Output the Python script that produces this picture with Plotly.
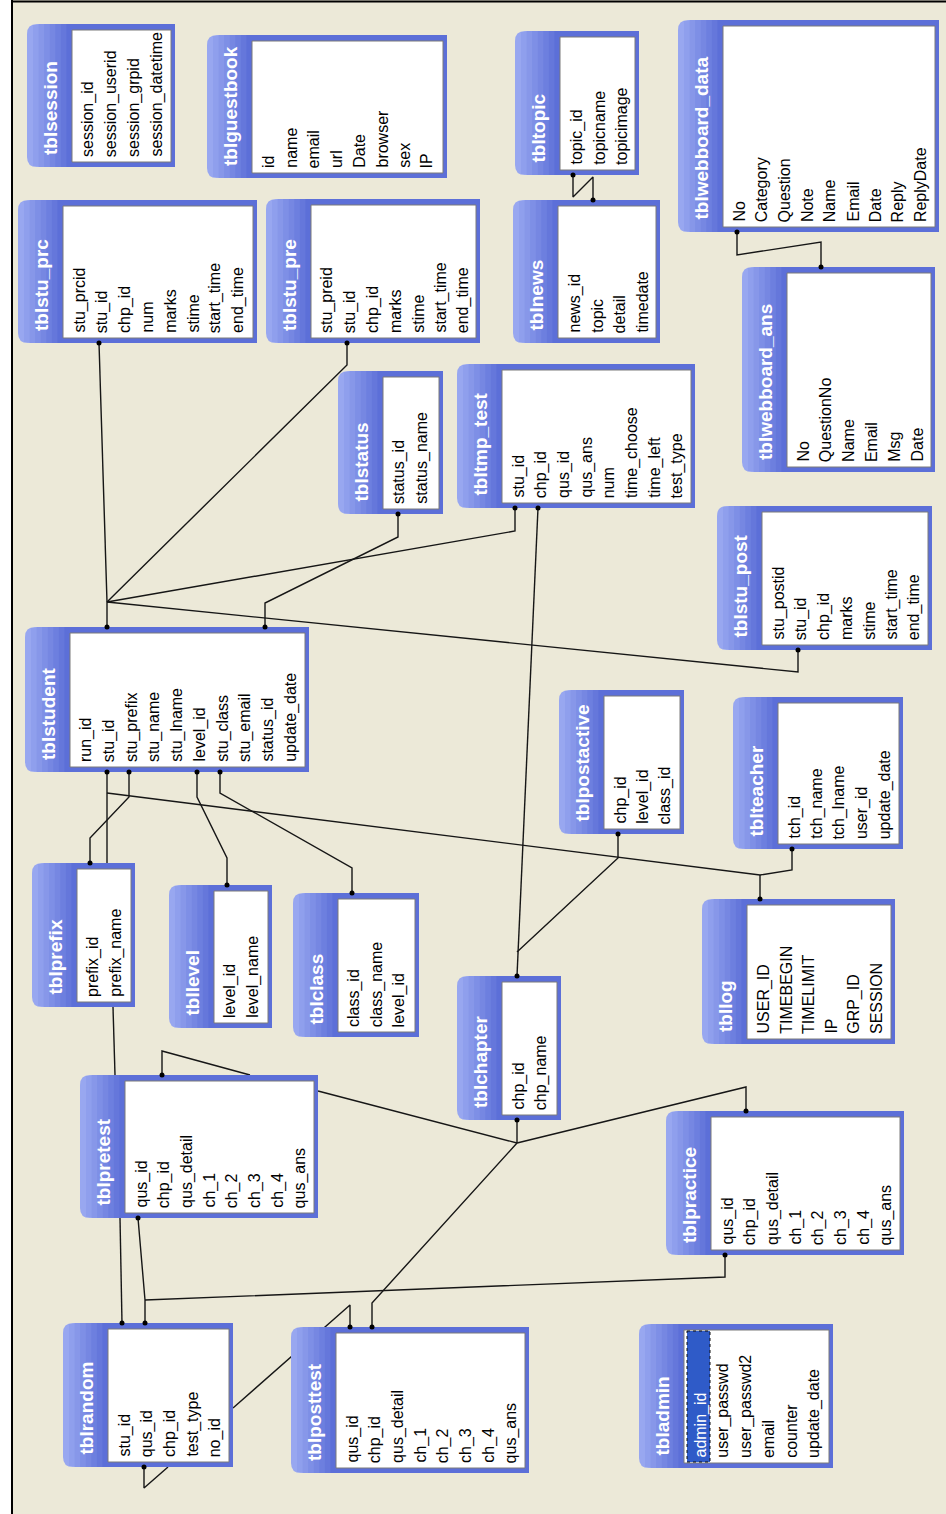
import plotly.graph_objects as go

W, H = 946, 1514

# ---------------- data: table names and their fields ----------------
table_names = ["tblsession", "tblguestbook", "tbltopic", "tblwebboard_data", "tblstu_prc",
               "tblstu_pre", "tblnews", "tblwebboard_ans", "tblstatus", "tbltmp_test",
               "tblstu_post", "tblstudent", "tblpostactive", "tblteacher", "tblprefix",
               "tbllevel", "tblclass", "tbllog", "tblchapter", "tblpretest",
               "tblpractice", "tblrandom", "tblposttest", "tbladmin"]

session_fields = ["session_id", "session_userid", "session_grpid", "session_datetime"]
guestbook_fields = ["id", "name", "email", "url", "Date", "browser", "sex", "IP"]
topic_fields = ["topic_id", "topicname", "topicimage"]
webboard_data_fields = ["No", "Category", "Question", "Note", "Name", "Email", "Date", "Reply", "ReplyDate"]
stu_prc_fields = ["stu_prcid", "stu_id", "chp_id", "num", "marks", "stime", "start_time", "end_time"]
stu_pre_fields = ["stu_preid", "stu_id", "chp_id", "marks", "stime", "start_time", "end_time"]
news_fields = ["news_id", "topic", "detail", "timedate"]
webboard_ans_fields = ["No", "QuestionNo", "Name", "Email", "Msg", "Date"]
status_fields = ["status_id", "status_name"]
tmp_test_fields = ["stu_id", "chp_id", "qus_id", "qus_ans", "num", "time_choose", "time_left", "test_type"]
stu_post_fields = ["stu_postid", "stu_id", "chp_id", "marks", "stime", "start_time", "end_time"]
student_fields = ["run_id", "stu_id", "stu_prefix", "stu_name", "stu_lname", "level_id",
                  "stu_class", "stu_email", "status_id", "update_date"]
postactive_fields = ["chp_id", "level_id", "class_id"]
teacher_fields = ["tch_id", "tch_name", "tch_lname", "user_id", "update_date"]
prefix_fields = ["prefix_id", "prefix_name"]
level_fields = ["level_id", "level_name"]
class_fields = ["class_id", "class_name", "level_id"]
log_fields = ["USER_ID", "TIMEBEGIN", "TIMELIMIT", "IP", "GRP_ID", "SESSION"]
chapter_fields = ["chp_id", "chp_name"]
pretest_fields = ["qus_id", "chp_id", "qus_detail", "ch_1", "ch_2", "ch_3", "ch_4", "qus_ans"]
practice_fields = ["qus_id", "chp_id", "qus_detail", "ch_1", "ch_2", "ch_3", "ch_4", "qus_ans"]
random_fields = ["stu_id", "qus_id", "chp_id", "test_type", "no_id"]
posttest_fields = ["qus_id", "chp_id", "qus_detail", "ch_1", "ch_2", "ch_3", "ch_4", "qus_ans"]
admin_fields = ["admin_id", "user_passwd", "user_passwd2", "email", "counter", "update_date"]

field_lists = [session_fields, guestbook_fields, topic_fields, webboard_data_fields, stu_prc_fields,
               stu_pre_fields, news_fields, webboard_ans_fields, status_fields, tmp_test_fields,
               stu_post_fields, student_fields, postactive_fields, teacher_fields, prefix_fields,
               level_fields, class_fields, log_fields, chapter_fields, pretest_fields,
               practice_fields, random_fields, posttest_fields, admin_fields]

selected_field = ("tbladmin", "admin_id")

# ---------------- layout (diagram canvas positions, pixels) ----------------
BOX = {
    "tblsession": (27, 24, 175, 167),
    "tblguestbook": (207, 35, 447, 178),
    "tbltopic": (515, 31, 639, 175),
    "tblwebboard_data": (678, 20, 939, 232),
    "tblstu_prc": (18, 200, 257, 343),
    "tblstu_pre": (266, 199, 480, 343),
    "tblnews": (513, 200, 660, 343),
    "tblwebboard_ans": (742, 267, 935, 472),
    "tblstatus": (338, 371, 443, 514),
    "tbltmp_test": (457, 364, 695, 508),
    "tblstu_post": (717, 506, 932, 650),
    "tblstudent": (25, 627, 309, 772),
    "tblpostactive": (559, 690, 684, 834),
    "tblteacher": (733, 697, 903, 849),
    "tblprefix": (32, 863, 135, 1007),
    "tbllevel": (169, 885, 272, 1028),
    "tblclass": (293, 893, 419, 1037),
    "tbllog": (702, 899, 895, 1044),
    "tblchapter": (457, 976, 561, 1120),
    "tblpretest": (80, 1075, 318, 1218),
    "tblpractice": (666, 1111, 904, 1255),
    "tblrandom": (63, 1323, 233, 1467),
    "tblposttest": (291, 1327, 529, 1473),
    "tbladmin": (639, 1324, 833, 1468),
}

# relationship connector polylines and the end points that carry a dot
LINKS = [
    ([(99, 343), (107, 602)], [(99, 343)]),
    ([(347, 343), (347, 365), (107, 602)], [(347, 343)]),
    ([(515, 508), (515, 531), (107, 602)], [(515, 508)]),
    ([(798, 650), (798, 672), (107, 602)], [(798, 650)]),
    ([(107, 602), (107, 627)], [(107, 627)]),
    ([(398, 514), (398, 537), (265, 603), (265, 627)], [(398, 514), (265, 627)]),
    ([(538, 508), (517, 976)], [(538, 508), (517, 976)]),
    ([(618, 834), (618, 858), (517, 952)], [(618, 834)]),
    ([(107, 772), (107, 863)], [(107, 772)]),
    ([(129, 772), (129, 797), (90, 838), (90, 863)], [(129, 772), (90, 863)]),
    ([(107, 793), (760, 875), (792, 870), (792, 849)], [(792, 849)]),
    ([(760, 875), (760, 899)], [(760, 899)]),
    ([(197, 772), (197, 797), (227, 858), (227, 885)], [(197, 772), (227, 885)]),
    ([(220, 772), (220, 793), (352, 868), (352, 893)], [(220, 772), (352, 893)]),
    ([(573, 175), (573, 197), (593, 177), (593, 200)], [(573, 175), (593, 200)]),
    ([(737, 232), (737, 255), (821, 242), (821, 267)], [(737, 232), (821, 267)]),
    ([(113, 1007), (115, 1075)], []),
    ([(162, 1075), (162, 1051), (250, 1075)], [(162, 1075)]),
    ([(318, 1091), (517, 1143)], []),
    ([(517, 1120), (517, 1143)], [(517, 1120)]),
    ([(517, 1143), (746, 1087), (746, 1111)], [(746, 1111)]),
    ([(517, 1143), (372, 1303), (372, 1327)], [(372, 1327)]),
    ([(120, 1218), (122, 1323)], [(122, 1323)]),
    ([(138, 1218), (145, 1300), (145, 1323)], [(138, 1218), (145, 1323)]),
    ([(145, 1300), (725, 1277), (725, 1255)], [(725, 1255)]),
    ([(233, 1408), (350, 1305), (350, 1327)], [(350, 1327)]),
    ([(144, 1467), (144, 1488), (168, 1467)], [(144, 1467)]),
]

# ---------------- style ----------------
BG = "#ECE9D8"
TITLE_W = 45
ROW = 22.7
FIRST = 16
FIELD_FONT = dict(family="Tahoma, 'Liberation Sans', Arial, sans-serif", size=16, color="#000000")
TITLE_FONT = dict(family="Tahoma, 'Liberation Sans', Arial, sans-serif", size=19, color="#FFFFFF")
LIGHT = (0x98, 0xA7, 0xF0)
DARK = (0x5C, 0x6F, 0xD8)


def mix(t):
    c = [round(LIGHT[i] + (DARK[i] - LIGHT[i]) * t) for i in range(3)]
    return "#%02X%02X%02X" % tuple(c)


def rounded_left(x0, y0, x1, y1, r):
    return (f"M {x0 + r},{y0} L {x1},{y0} L {x1},{y1} L {x0 + r},{y1} "
            f"Q {x0},{y1} {x0},{y1 - r} L {x0},{y0 + r} Q {x0},{y0} {x0 + r},{y0} Z")


fig = go.Figure()
shapes = []
annotations = []

# white strip left of the frame
shapes.append(dict(type="rect", xref="x", yref="y", x0=0, x1=12, y0=0, y1=H,
                   fillcolor="#FFFFFF", line_width=0, layer="below"))

# connectors
for pts, dots in LINKS:
    fig.add_trace(go.Scatter(x=[p[0] for p in pts], y=[p[1] for p in pts], mode="lines",
                             line=dict(color="#161616", width=1.4), hoverinfo="skip",
                             showlegend=False))

# tables
for name, fields in zip(table_names, field_lists):
    x0, y0, x1, y1 = BOX[name]
    wx = x0 + TITLE_W
    shapes.append(dict(type="path", xref="x", yref="y", path=rounded_left(x0, y0, x1, y1, 10),
                       fillcolor=mix(0.0), line_width=0, layer="above"))
    n = 7
    for k in range(n):
        xs = x0 + 6 + k * (TITLE_W - 6) / n
        shapes.append(dict(type="rect", xref="x", yref="y", x0=xs, x1=x1,
                           y0=y0 + (1 if k == 0 else 0), y1=y1 - (1 if k == 0 else 0),
                           fillcolor=mix((k + 1) / n), line_width=0, layer="above"))
    # white field panel
    shapes.append(dict(type="rect", xref="x", yref="y", x0=wx, x1=x1 - 4, y0=y0 + 6, y1=y1 - 5,
                       fillcolor="#FFFFFF", line=dict(color="#7A7A7A", width=1), layer="above"))
    # title
    annotations.append(dict(x=x0 + 23, y=y1 - 12, xref="x", yref="y", text=f"<b>{name}</b>",
                            textangle=-90, showarrow=False, xanchor="center", yanchor="bottom",
                            font=TITLE_FONT, borderpad=0, borderwidth=0))
    for i, f in enumerate(fields):
        fx = wx + FIRST + i * ROW
        col = "#000000"
        if (name, f) == selected_field:
            shapes.append(dict(type="rect", xref="x", yref="y", x0=fx - 13, x1=fx + 10,
                               y0=y0 + 7, y1=y1 - 6, fillcolor="#2F5BC8",
                               line=dict(color="#111111", width=1, dash="dot"), layer="above"))
            col = "#FFFFFF"
        annotations.append(dict(x=fx, y=y1 - 10, xref="x", yref="y", text=f, textangle=-90,
                                showarrow=False, xanchor="center", yanchor="bottom",
                                font=dict(FIELD_FONT, color=col), borderpad=0, borderwidth=0))

# relationship end dots
for pts, dots in LINKS:
    for (dx, dy) in dots:
        shapes.append(dict(type="circle", xref="x", yref="y", x0=dx - 2.5, x1=dx + 2.5,
                           y0=dy - 2.5, y1=dy + 2.5, fillcolor="#000000", line_width=0,
                           layer="above"))

# frame
shapes.append(dict(type="line", xref="x", yref="y", x0=12, x1=12, y0=0, y1=H,
                   line=dict(color="#000000", width=2), layer="above"))
shapes.append(dict(type="line", xref="x", yref="y", x0=12, x1=W, y0=1.5, y1=1.5,
                   line=dict(color="#000000", width=2), layer="above"))

fig.update_layout(
    width=W, height=H, margin=dict(l=0, r=0, t=0, b=0),
    paper_bgcolor="#FFFFFF", plot_bgcolor=BG,
    xaxis=dict(range=[0, W], visible=False, fixedrange=True),
    yaxis=dict(range=[H, 0], visible=False, fixedrange=True),
    shapes=shapes, annotations=annotations, showlegend=False,
)

fig.write_html("out.html", config={"displayModeBar": False},
               post_script="document.body.style.margin='0';")
